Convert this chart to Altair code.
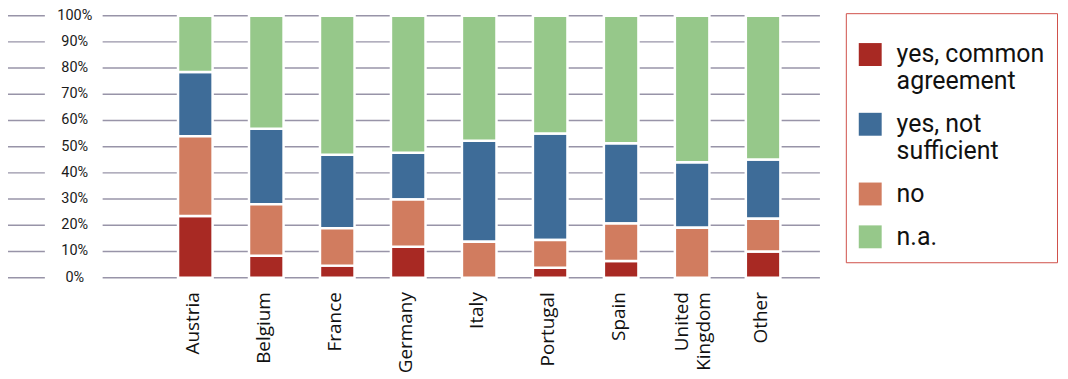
import altair as alt
import pandas as pd

countries = ["Austria", "Belgium", "France", "Germany", "Italy",
             "Portugal", "Spain", "United Kingdom", "Other"]
yes_common = [23.5, 8.4, 4.6, 11.8, 0.0, 3.8, 6.4, 0.0, 10.0]
no_vals = [30.5, 19.6, 14.3, 18.0, 13.7, 10.6, 14.3, 19.1, 12.5]
yes_not = [24.5, 28.8, 28.0, 17.9, 38.6, 40.6, 30.6, 25.0, 22.6]
na_vals = [21.5, 43.2, 53.1, 52.3, 47.7, 45.0, 48.7, 55.9, 54.9]

series_names = ["yes, common agreement", "yes, not sufficient", "no", "n.a."]
series_colors = ["#a82923", "#3e6c98", "#d17c5f", "#96c88a"]
stack_rank = [0, 2, 1, 3]  # bottom-to-top order of each series

tick_values = [0, 0.1, 0.2, 0.3, 0.4, 0.5, 0.6, 0.7, 0.8, 0.9, 1.0]
tick_labels = ["0%", "10%", "20%", "30%", "40%", "50%",
               "60%", "70%", "80%", "90%", "100%"]

series_values = [yes_common, yes_not, no_vals, na_vals]
rows = []
for name, rank, vals in zip(series_names, stack_rank, series_values):
    for c, v in zip(countries, vals):
        rows.append({"country": c, "series": name, "rank": rank, "value": v})
df = pd.DataFrame(rows)

NB = "\u00a0"
label_expr = ("datum.label == 'yes, common agreement' ? ['yes, common" + NB * 4 + "', 'agreement'] : "
              "datum.label == 'yes, not sufficient' ? ['yes, not', 'sufficient'] : datum.label")

PW, PH = 815, 263
yscale = alt.Scale(domain=[0, 1], nice=False)
ylab_df = pd.DataFrame({"v": tick_values, "t": tick_labels})

grid = alt.Chart(ylab_df).mark_rule(color="#9894a8", strokeWidth=1.5).encode(
    y=alt.Y("v:Q", scale=yscale, axis=None),
    x=alt.value(-1), x2=alt.value(PW),
)

gap = alt.Chart(pd.DataFrame({"k": [0]})).mark_rect(color="white").encode(
    x=alt.value(37), x2=alt.value(95), y=alt.value(-2), y2=alt.value(PH + 2)
)

bars = alt.Chart(df).mark_bar(stroke="white", strokeWidth=2.5).encode(
    x=alt.X("country:N", sort=countries,
            scale=alt.Scale(paddingInner=0.513, paddingOuter=0.2565, range=[152.4, 793.6]),
            axis=alt.Axis(title=None, labelAngle=-90, domain=False, ticks=False,
                          tickSize=0, labelPadding=14, labelFont="Open Sans",
                          labelFontSize=19, labelColor="#111111", labelLineHeight=22,
                          labelExpr="datum.value == 'United Kingdom' ? ['United', 'Kingdom'] : datum.value",
                          labelOffset={"condition": {"test": "datum.value == 'United Kingdom'", "value": -10},
                                       "value": -2})),
    y=alt.Y("value:Q", stack="normalize", scale=yscale, axis=None),
    color=alt.Color("series:N",
                    scale=alt.Scale(domain=series_names, range=series_colors),
                    legend=alt.Legend(orient="none", legendX=841, legendY=-2.5,
                                      title=NB, titleFontSize=12, titlePadding=5,
                                      padding=12,
                                      strokeColor="#d0504a", fillColor="white",
                                      symbolType="square", symbolSize=529,
                                      symbolStrokeWidth=0, labelFont="Roboto",
                                      labelFontSize=25, labelColor="#111111",
                                      labelOffset=14, labelLimit=400, rowPadding=17,
                                      labelExpr=label_expr)),
    order=alt.Order("rank:Q", sort="ascending"),
)

ytext = alt.Chart(ylab_df).mark_text(
    font="Roboto", fontSize=14.5, color="#1a1a1a", align="center", baseline="middle"
).encode(
    y=alt.Y("v:Q", scale=yscale, axis=None),
    x=alt.value(67),
    text="t:N",
)

chart = alt.layer(grid, gap, bars, ytext).properties(
    width=PW, height=PH,
    autosize=alt.AutoSizeParams(type="none"),
    padding={"left": 0, "top": 7, "right": 241, "bottom": 100},
).configure_view(stroke=None)

chart.save("out.html", embed_options={"renderer": "svg", "actions": False})
